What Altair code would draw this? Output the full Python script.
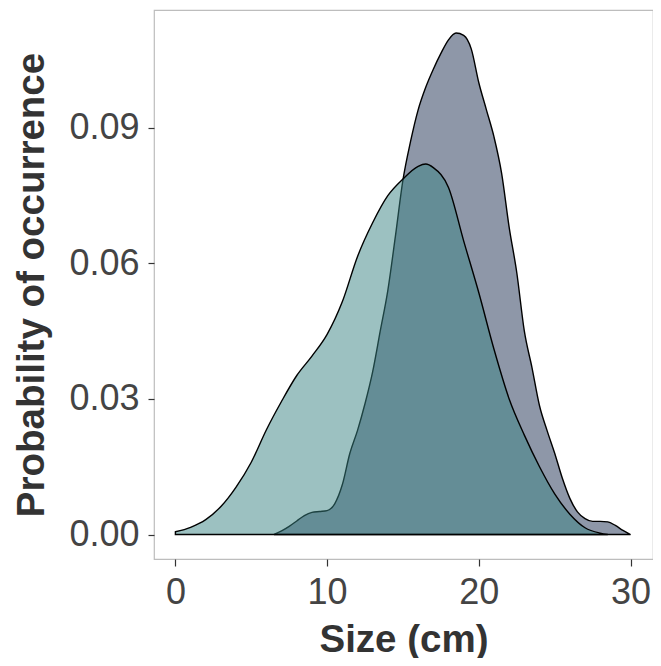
import altair as alt
import pandas as pd

# Purple-grey density (larger sizes)
a_size = [6.5, 7, 7.5, 8, 8.5, 9, 9.5, 10, 10.5, 11, 11.5, 12, 12.5, 13, 13.5, 14, 14.5,
          15, 15.5, 16, 16.5, 17, 17.5, 18, 18.5, 19, 19.5, 20, 20.5, 21, 21.5, 22, 22.5,
          23, 23.5, 24, 24.5, 25, 25.5, 26, 26.5, 27, 27.5, 28, 28.5, 29, 29.5, 30]
a_dens = [0.0, 0.0008, 0.0018, 0.003, 0.0042, 0.0049, 0.0051, 0.0053, 0.0068, 0.011, 0.018,
          0.023, 0.029, 0.036, 0.045, 0.054, 0.066, 0.0785, 0.087, 0.094, 0.099, 0.103,
          0.1065, 0.1095, 0.111, 0.1105, 0.1075, 0.100, 0.094, 0.088, 0.080, 0.068, 0.058,
          0.045, 0.037, 0.0285, 0.023, 0.018, 0.0125, 0.008, 0.005, 0.0035, 0.0029, 0.0029,
          0.0028, 0.002, 0.0009, 0.0]

# Teal density (smaller sizes)
b_size = [0, 1, 2, 3, 4, 5, 6, 7, 8, 9, 10, 11, 12, 13, 14, 15, 16, 16.5, 17, 18, 19, 20,
          21, 22, 23, 24, 25, 26, 27, 28, 28.5]
b_dens = [0.0006, 0.0016, 0.0033, 0.0062, 0.0105, 0.016, 0.0232, 0.0295, 0.0352, 0.0395,
          0.0443, 0.0515, 0.0615, 0.069, 0.075, 0.0787, 0.0815, 0.082, 0.0812, 0.0768,
          0.065, 0.0535, 0.041, 0.030, 0.022, 0.015, 0.009, 0.0045, 0.0015, 0.0003, 0.0]

x_ticks = [0, 10, 20, 30]
y_ticks = [0.0, 0.03, 0.06, 0.09]

df_a = pd.DataFrame({"size": a_size, "dens": a_dens})
df_b = pd.DataFrame({"size": b_size, "dens": b_dens})

xs = alt.Scale(domain=[-1.41, 31.48], nice=False, zero=False)
ys = alt.Scale(domain=[-0.00542, 0.1161], nice=False, zero=False)

xenc = alt.X("size:Q", scale=xs, title="Size (cm)",
             axis=alt.Axis(values=x_ticks, format="d", titleY=92,
                           titleBaseline="alphabetic", labelBaseline="alphabetic",
                           labelPadding=37, tickSize=7))
yenc = alt.Y("dens:Q", scale=ys, title="Probability of occurrence",
             axis=alt.Axis(values=y_ticks, format=".2f", titleX=-111,
                           titleBaseline="alphabetic", labelPadding=9, tickSize=6))

area_a = alt.Chart(df_a).mark_area(
    interpolate="monotone", fill="#8E97A8", fillOpacity=1, stroke="#000000",
    strokeWidth=1.4
).encode(x=xenc, y=yenc, y2=alt.Y2(datum=0))

area_b = alt.Chart(df_b).mark_area(
    interpolate="monotone", fill="#398383", fillOpacity=0.5, stroke="#000000",
    strokeOpacity=1, strokeWidth=1.4
).encode(x=xenc, y=yenc, y2=alt.Y2(datum=0))

chart = alt.layer(area_a, area_b).properties(
    width=499, height=549,
    autosize=alt.AutoSizeParams(type="none"),
    padding={"left": 146, "top": 2, "right": 0, "bottom": 99},
).configure_view(
    stroke="#BDBDBD", strokeWidth=1.2
).configure_axis(
    grid=False, domain=False, tickColor="#333333", tickWidth=1.2,
    labelFont="Liberation Sans", labelFontSize=36, labelColor="#444444",
    titleFont="Liberation Sans", titleFontSize=38.5, titleFontWeight="bold",
    titleColor="#333333"
)

chart.save("out.html", embed_options={"renderer": "svg", "actions": False})
